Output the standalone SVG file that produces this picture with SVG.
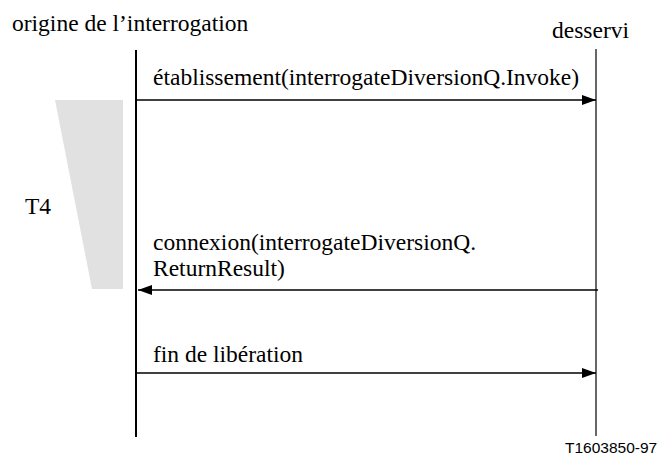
<svg xmlns="http://www.w3.org/2000/svg" width="659" height="460" viewBox="0 0 659 460">
<defs>
<marker id="ah" markerWidth="14" markerHeight="10" refX="14" refY="5" orient="auto" markerUnits="userSpaceOnUse">
<path d="M0,0 L14,5 L0,10 Z" fill="#000"/>
</marker>
</defs>
<rect width="659" height="460" fill="#fff"/>
<g font-family="'Liberation Serif', serif" font-size="23.5" fill="#000">
<g id="timer">
<polygon points="55,100 123,100 123,289 92,289" fill="#e1e1e1"/>
<text x="25" y="214">T4</text>
</g>
<g id="origine">
<text x="12" y="31">origine de l’interrogation</text>
<line x1="136" y1="50" x2="136" y2="437" stroke="#000" stroke-width="2"/>
</g>
<g id="desservi">
<text x="552" y="38">desservi</text>
<line x1="596" y1="49" x2="596" y2="436" stroke="#000" stroke-width="1.2"/>
</g>
<g id="connectors" stroke="#000" stroke-width="1.3" fill="none">
<line x1="137" y1="100" x2="596" y2="100" marker-end="url(#ah)"/>
<line x1="598" y1="290" x2="138" y2="290" marker-end="url(#ah)"/>
<line x1="137" y1="373" x2="596" y2="373" marker-end="url(#ah)"/>
</g>
<g id="labels">
<text x="153" y="85">établissement(interrogateDiversionQ.Invoke)</text>
<text x="153" y="250">connexion(interrogateDiversionQ.</text>
<text x="153" y="276">ReturnResult)</text>
<text x="153" y="362">fin de libération</text>
</g>
</g>
<text x="565" y="453" font-family="'Liberation Sans', sans-serif" font-size="15.5" fill="#000">T1603850-97</text>
</svg>
